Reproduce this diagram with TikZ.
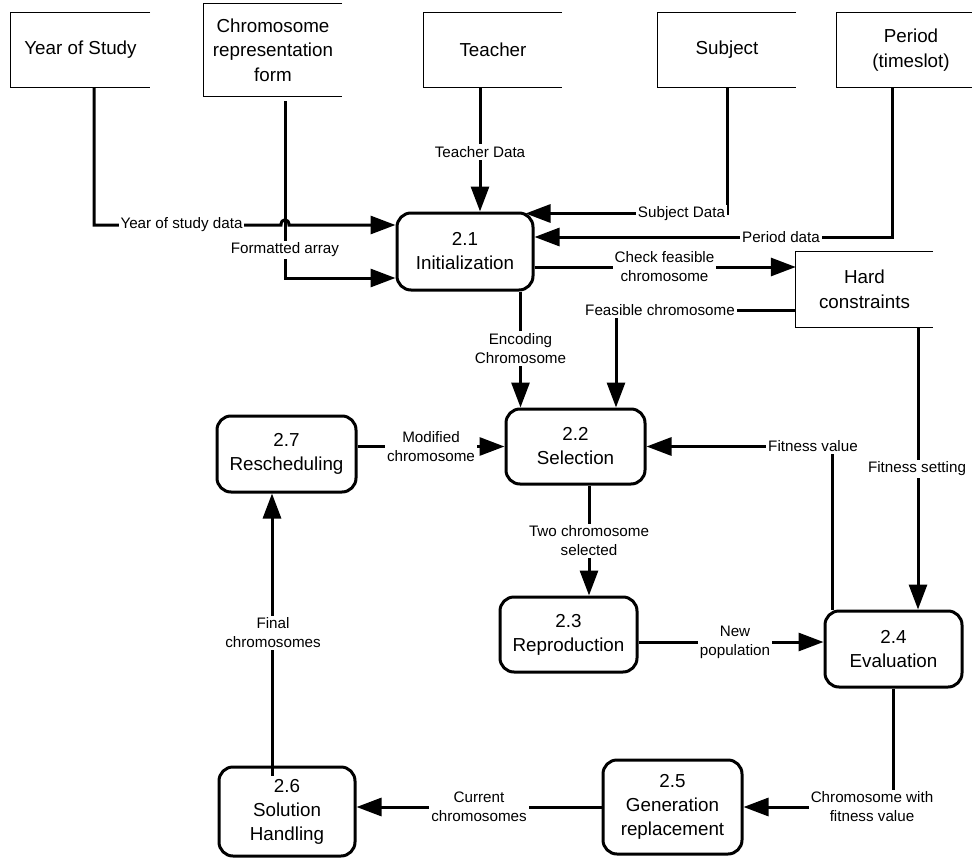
\documentclass[tikz,border=0pt]{standalone}
\usepackage{fontspec}
\setmainfont{Liberation Sans}
\usetikzlibrary{arrows.meta}
\begin{document}
\begin{tikzpicture}[x=1pt,y=-1pt,
  proc/.style={draw, line width=3pt, rounded corners=14pt, align=center,
    font=\fontsize{18.8}{24}\selectfont, inner sep=0pt},
  ext/.style={align=center, font=\fontsize{18.8}{24.5}\selectfont, inner sep=0pt},
  open/.style={line width=1pt},
  link/.style={line width=3pt},
  flow/.style={line width=3pt, -{Triangle[length=25pt,width=18pt]}},
  lbl/.style={fill=white, align=center, font=\fontsize{15.2}{19}\selectfont, inner sep=2pt}
]
\useasboundingbox (0,0) rectangle (972,859);

% external entities (open boxes)
\node[ext, minimum width=139pt, minimum height=74pt] (yos)   at (80.5,50) {Year of Study};
\node[ext, minimum width=138pt, minimum height=92pt] (chrom) at (273,50) {Chromosome\\representation\\form};
\node[ext, minimum width=138pt, minimum height=74pt] (teach) at (493,50) {Teacher};
\node[ext, minimum width=138pt, minimum height=74pt] (subj)  at (727,50) {Subject};
\node[ext, minimum width=148pt, minimum height=74pt] (per)   at (911,50) {Period\\(timeslot)};
\node[ext, minimum width=137pt, minimum height=75pt] (hard)  at (864.5,289.5) {Hard\\constraints};
\foreach \e in {yos,chrom,teach,subj,per,hard}
  \draw[open] (\e.north east) -- (\e.north west) -- (\e.south west) -- (\e.south east);

% processes
\node[proc, minimum width=136pt, minimum height=77pt] (p21) at (465,251.5) {2.1\\Initialization};
\node[proc, minimum width=139pt, minimum height=75pt] (p22) at (575.5,446.5) {2.2\\Selection};
\node[proc, minimum width=137pt, minimum height=75pt] (p23) at (568.5,634.5) {2.3\\Reproduction};
\node[proc, minimum width=137pt, minimum height=76pt] (p24) at (893.5,649) {2.4\\Evaluation};
\node[proc, minimum width=139pt, minimum height=94pt] (p25) at (672.5,807) {2.5\\Generation\\replacement};
\node[proc, minimum width=136pt, minimum height=89pt] (p26) at (287,811.5) {2.6\\Solution\\Handling};
\node[proc, minimum width=139pt, minimum height=76pt] (p27) at (286.5,454) {2.7\\Rescheduling};

% data flows
\draw[flow] ([shift={(12pt,-5pt)}]chrom.south) |- ([yshift=-26.5pt]p21.west);
\draw[flow] ([xshift=13.5pt]yos.south) -- (94,225) -- (281,225)
  .. controls (281,218) and (289,218) .. (289,225) -- ([yshift=26.5pt]p21.west);
\draw[flow] ([xshift=-13pt]teach.south) -- ([xshift=15pt]p21.north);
\draw[flow] (subj.south) |- ([shift={(-9pt,-2pt)}]p21.north east);
\draw[flow] ([xshift=-19pt]per.south) |- ([yshift=14.5pt]p21.east);
\draw[flow] ([yshift=-15.5pt]p21.east) -- ([yshift=22.5pt]hard.west);
\draw[flow] ([yshift=-20.5pt]hard.west) -| ([xshift=40.5pt]p22.north);
\draw[flow] ([xshift=55.5pt]p21.south) -- ([xshift=-55pt]p22.north);
\draw[flow] ([yshift=7.5pt]p27.east) -- (p22.west);
\draw[flow] ([xshift=-61.5pt]p24.north) |- (p22.east);
\draw[flow] ([xshift=53.5pt]hard.south) -- ([xshift=24.5pt]p24.north);
\draw[flow] ([xshift=13.5pt]p22.south) -- ([xshift=20.5pt]p23.north);
\draw[flow] ([yshift=-7.5pt]p23.east) -- ([yshift=7pt]p24.west);
\draw[flow] (p24.south) |- (p25.east);
\draw[flow] (p25.west) -- (p25.west -| p26.east);
\draw[flow] ([shift={(-15pt,-10pt)}]p26.north) -- ([xshift=-14.5pt]p27.south);

% flow labels
\node[lbl] (lyos)  at (181.5,225) {Year of study data};
\node[lbl] (lfmt)  at (285,250) {Formatted array};
\node[lbl] (ltch)  at (480,152) {Teacher Data};
\node[lbl] (lsub)  at (681.5,214) {Subject Data};
\node[lbl] (lper)  at (781,237) {Period data};
\node[lbl] (lchk)  at (664.5,267) {Check feasible\\chromosome};
\node[lbl] (lfea)  at (660,310) {Feasible chromosome};
\node[lbl] (lenc)  at (520.5,348.5) {Encoding\\Chromosome};
\node[lbl] (lmod)  at (431,446.5) {Modified\\chromosome};
\node[lbl] (lfv)   at (813,446) {Fitness value};
\node[lbl] (lfs)   at (917,469) {Fitness setting};
\node[lbl] (ltwo)  at (589,541) {Two chromosome\\selected};
\node[lbl] (lnew)  at (735,642) {New\\population};
\node[lbl] (lcwf)  at (872,807) {Chromosome with\\fitness value};
\node[lbl] (lcur)  at (479,807) {Current\\chromosomes};
\node[lbl] (lfin)  at (273,633) {Final\\chromosomes};
\end{tikzpicture}
\end{document}
